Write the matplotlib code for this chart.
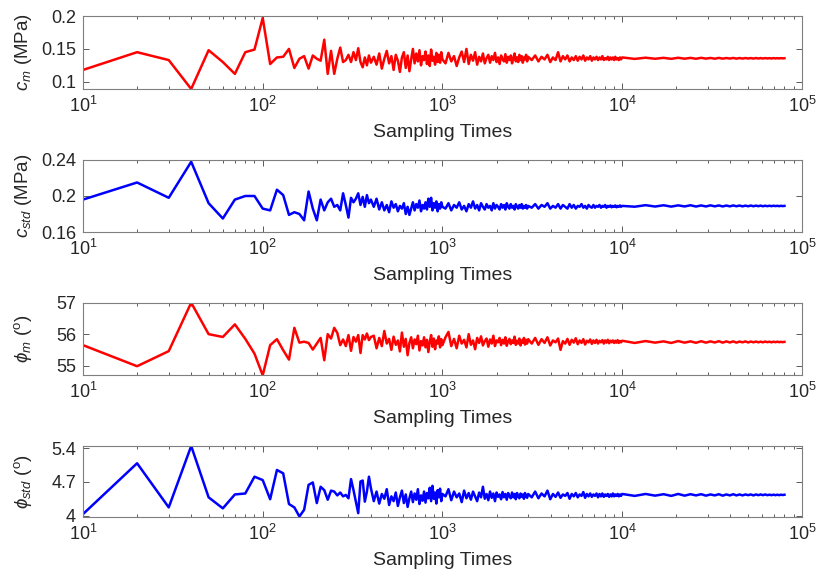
import matplotlib
matplotlib.use('Agg')
import matplotlib.pyplot as plt
from matplotlib.ticker import LogLocator, NullFormatter

plt.rcParams['font.family'] = ['Liberation Sans', 'DejaVu Sans']
plt.rcParams['mathtext.fontset'] = 'custom'
plt.rcParams['mathtext.rm'] = 'Liberation Sans'
plt.rcParams['mathtext.it'] = 'Liberation Sans:italic'
plt.rcParams['mathtext.bf'] = 'Liberation Sans:bold'

# Monte Carlo sampling times (subsampled for plotting)
sampling_times = [
    10, 20, 30, 40, 50, 60, 70, 80, 90, 100,
    110, 120, 130, 140, 150, 160, 170, 180, 190, 200,
    210, 220, 230, 240, 250, 260, 270, 280, 290, 300,
    310, 320, 330, 340, 350, 360, 370, 380, 390, 400,
    415, 430, 445, 460, 475, 490, 505, 520, 535, 550,
    565, 580, 595, 610, 625, 640, 655, 670, 685, 700,
    715, 730, 745, 760, 775, 790, 805, 820, 835, 850,
    865, 880, 895, 910, 925, 940, 955, 970, 985, 1000,
    1040, 1080, 1120, 1160, 1200, 1240, 1280, 1320, 1360, 1400,
    1440, 1480, 1520, 1560, 1600, 1640, 1680, 1720, 1760, 1800,
    1840, 1880, 1920, 1960, 2000, 2040, 2080, 2120, 2160, 2200,
    2240, 2280, 2320, 2360, 2400, 2440, 2480, 2520, 2560, 2600,
    2640, 2680, 2720, 2760, 2800, 2840, 2880, 2920, 2960, 3000,
    3140, 3280, 3420, 3560, 3700, 3840, 3980, 4120, 4260, 4400,
    4540, 4680, 4820, 4960, 5100, 5240, 5380, 5520, 5660, 5800,
    5940, 6080, 6220, 6360, 6500, 6640, 6780, 6920, 7060, 7200,
    7340, 7480, 7620, 7760, 7900, 8040, 8180, 8320, 8460, 8600,
    8740, 8880, 9020, 9160, 9300, 9440, 9580, 9720, 9860, 10000,
    11750, 13500, 15250, 17000, 18750, 20500, 22250, 24000, 25750, 27500,
    29250, 31000, 32750, 34500, 36250, 38000, 39750, 41500, 43250, 45000,
    46750, 48500, 50250, 52000, 53750, 55500, 57250, 59000, 60750, 62500,
    64250, 66000, 67750, 69500, 71250, 73000, 74750, 76500, 78250, 80000,
]

# mean cohesion (MPa)
c_mean = [
    0.118, 0.145, 0.133, 0.089, 0.148, 0.130, 0.112, 0.145, 0.149, 0.197,
    0.127, 0.137, 0.138, 0.150, 0.121, 0.135, 0.139, 0.120, 0.140, 0.135,
    0.132, 0.164, 0.112, 0.147, 0.112, 0.135, 0.152, 0.130, 0.133, 0.141,
    0.130, 0.145, 0.133, 0.151, 0.130, 0.122, 0.137, 0.125, 0.140, 0.129,
    0.138, 0.126, 0.143, 0.120, 0.135, 0.147, 0.128, 0.139, 0.118, 0.141,
    0.132, 0.115, 0.137, 0.145, 0.121, 0.140, 0.116, 0.134, 0.150, 0.128,
    0.143, 0.131, 0.148, 0.125, 0.139, 0.133, 0.146, 0.127, 0.140, 0.124,
    0.149, 0.132, 0.138, 0.126, 0.144, 0.130, 0.141, 0.129, 0.145, 0.134,
    0.128, 0.144, 0.131, 0.139, 0.124, 0.137, 0.146, 0.130, 0.150, 0.127,
    0.141, 0.132, 0.145, 0.126, 0.138, 0.131, 0.143, 0.128, 0.136, 0.141,
    0.129, 0.139, 0.133, 0.144, 0.130, 0.137, 0.127, 0.140, 0.134, 0.131,
    0.142, 0.129, 0.138, 0.133, 0.140, 0.128, 0.136, 0.143, 0.131, 0.137,
    0.130, 0.141, 0.133, 0.139, 0.129, 0.137, 0.134, 0.141, 0.131, 0.138,
    0.133, 0.140, 0.131, 0.138, 0.134, 0.141, 0.130, 0.137, 0.133, 0.145,
    0.131, 0.139, 0.134, 0.140, 0.131, 0.137, 0.133, 0.139, 0.132, 0.138,
    0.134, 0.140, 0.132, 0.137, 0.134, 0.139, 0.132, 0.137, 0.134, 0.138,
    0.133, 0.137, 0.134, 0.139, 0.133, 0.136, 0.134, 0.138, 0.133, 0.137,
    0.134, 0.137, 0.133, 0.138, 0.134, 0.136, 0.133, 0.137, 0.134, 0.137,
    0.1348, 0.1366, 0.1350, 0.1364, 0.1349, 0.1365, 0.1351, 0.1363, 0.1350, 0.1364,
    0.1352, 0.1362, 0.1351, 0.1363, 0.1352, 0.1361, 0.1353, 0.1362, 0.1352, 0.1361,
    0.1353, 0.1361, 0.1354, 0.1360, 0.1353, 0.1361, 0.1354, 0.1360, 0.1354, 0.1360,
    0.1355, 0.1359, 0.1354, 0.1360, 0.1355, 0.1359, 0.1355, 0.1359, 0.1356, 0.1358,
]

# standard deviation of cohesion (MPa)
c_std = [
    0.196, 0.215, 0.198, 0.238, 0.192, 0.175, 0.196, 0.200, 0.200, 0.186,
    0.184, 0.207, 0.201, 0.179, 0.182, 0.180, 0.173, 0.205, 0.186, 0.173,
    0.196, 0.184, 0.193, 0.197, 0.188, 0.190, 0.184, 0.203, 0.190, 0.176,
    0.198, 0.193, 0.197, 0.203, 0.190, 0.199, 0.188, 0.201, 0.192, 0.196,
    0.188, 0.197, 0.185, 0.193, 0.184, 0.190, 0.182, 0.194, 0.187, 0.191,
    0.183, 0.189, 0.186, 0.192, 0.180, 0.188, 0.179, 0.186, 0.193, 0.184,
    0.191, 0.187, 0.195, 0.183, 0.190, 0.186, 0.193, 0.185, 0.197, 0.188,
    0.198, 0.184, 0.192, 0.187, 0.194, 0.183, 0.191, 0.186, 0.193, 0.188,
    0.186, 0.192, 0.184, 0.190, 0.187, 0.193, 0.185, 0.189, 0.183, 0.191,
    0.187, 0.194, 0.186, 0.190, 0.184, 0.192, 0.188, 0.185, 0.191, 0.187,
    0.189, 0.184, 0.192, 0.186, 0.190, 0.188, 0.185, 0.191, 0.187, 0.190,
    0.185, 0.192, 0.188, 0.186, 0.191, 0.187, 0.189, 0.185, 0.191, 0.188,
    0.186, 0.190, 0.187, 0.191, 0.186, 0.189, 0.187, 0.190, 0.186, 0.189,
    0.187, 0.191, 0.186, 0.190, 0.188, 0.192, 0.186, 0.189, 0.187, 0.191,
    0.186, 0.190, 0.188, 0.186, 0.191, 0.187, 0.190, 0.186, 0.189, 0.188,
    0.191, 0.187, 0.189, 0.186, 0.190, 0.188, 0.187, 0.190, 0.187, 0.189,
    0.188, 0.190, 0.187, 0.189, 0.188, 0.190, 0.187, 0.189, 0.188, 0.1895,
    0.1875, 0.189, 0.188, 0.1895, 0.1875, 0.189, 0.188, 0.1895, 0.188, 0.189,
    0.1881, 0.1898, 0.1883, 0.1897, 0.1882, 0.1896, 0.1884, 0.1897, 0.1883, 0.1895,
    0.1884, 0.1896, 0.1885, 0.1895, 0.1884, 0.1894, 0.1885, 0.1895, 0.1886, 0.1894,
    0.1885, 0.1893, 0.1886, 0.1894, 0.1886, 0.1893, 0.1887, 0.1893, 0.1886, 0.1892,
    0.1887, 0.1892, 0.1887, 0.1892, 0.1888, 0.1891, 0.1887, 0.1891, 0.1888, 0.1890,
]

# mean friction angle (deg)
phi_mean = [
    55.65, 54.98, 55.46, 57.00, 56.00, 55.91, 56.31, 55.85, 55.38, 54.69,
    55.65, 55.84, 55.49, 55.19, 56.20, 55.73, 55.76, 55.72, 55.51, 55.70,
    55.88, 55.17, 56.00, 55.86, 56.20, 56.04, 55.65, 55.83, 55.62, 55.97,
    55.47, 55.91, 55.76, 55.97, 55.40, 55.97, 55.83, 56.02, 55.81, 55.91,
    55.95, 55.55, 55.88, 55.62, 56.10, 55.70, 55.85, 55.50, 55.92, 55.66,
    55.80, 55.45, 56.05, 55.60, 55.85, 55.33, 55.72, 55.90, 55.55, 55.83,
    55.68, 55.95, 55.48, 55.78, 55.64, 55.90, 55.58, 55.82, 55.43, 55.75,
    55.97, 55.60, 55.86, 55.52, 55.80, 55.70, 55.93, 55.58, 55.84, 55.65,
    55.90, 56.07, 55.62, 55.85, 55.55, 55.95, 55.70, 55.82, 55.58, 56.00,
    55.66, 55.80, 55.52, 55.88, 55.72, 55.93, 55.64, 55.78, 55.86, 55.60,
    55.83, 55.70, 55.95, 55.62, 55.80, 55.74, 55.88, 55.65, 55.82, 55.70,
    55.90, 55.63, 55.78, 55.85, 55.68, 55.80, 55.72, 55.92, 55.66, 55.79,
    55.70, 55.86, 55.64, 55.80, 55.73, 55.88, 55.67, 55.82, 55.70, 55.84,
    55.70, 55.88, 55.66, 55.84, 55.72, 55.90, 55.64, 55.80, 55.74, 55.86,
    55.50, 55.78, 55.70, 55.85, 55.66, 55.82, 55.73, 55.87, 55.68, 55.80,
    55.72, 55.84, 55.67, 55.79, 55.74, 55.83, 55.69, 55.80, 55.72, 55.82,
    55.70, 55.79, 55.74, 55.81, 55.70, 55.80, 55.73, 55.82, 55.71, 55.79,
    55.74, 55.80, 55.72, 55.79, 55.73, 55.81, 55.72, 55.78, 55.74, 55.79,
    55.72, 55.78, 55.73, 55.77, 55.72, 55.78, 55.73, 55.77, 55.725, 55.775,
    55.73, 55.77, 55.735, 55.775, 55.73, 55.77, 55.735, 55.77, 55.73, 55.765,
    55.74, 55.77, 55.735, 55.765, 55.74, 55.765, 55.74, 55.76, 55.74, 55.765,
    55.745, 55.76, 55.74, 55.76, 55.745, 55.76, 55.745, 55.755, 55.745, 55.755,
]

# standard deviation of friction angle (deg)
phi_std = [
    4.03, 5.09, 4.17, 5.45, 4.38, 4.15, 4.44, 4.46, 4.81, 4.74,
    4.34, 4.95, 4.88, 4.24, 4.17, 3.98, 4.12, 4.64, 4.69, 4.26,
    4.60, 4.53, 4.33, 4.52, 4.50, 4.42, 4.48, 4.40, 4.43, 4.36,
    4.76, 4.53, 4.29, 4.05, 4.71, 4.73, 4.29, 4.50, 4.81, 4.57,
    4.30, 4.50, 4.25, 4.45, 4.35, 4.55, 4.22, 4.40, 4.30, 4.48,
    4.20, 4.38, 4.52, 4.26, 4.44, 4.18, 4.36, 4.50, 4.28, 4.46,
    4.33, 4.55, 4.24, 4.42, 4.31, 4.50, 4.27, 4.47, 4.36, 4.58,
    4.30, 4.62, 4.35, 4.48, 4.25, 4.53, 4.38, 4.56, 4.30, 4.45,
    4.40, 4.55, 4.32, 4.50, 4.38, 4.46, 4.28, 4.52, 4.36, 4.47,
    4.33, 4.50, 4.40, 4.30, 4.48, 4.38, 4.60, 4.35, 4.45, 4.32,
    4.50, 4.37, 4.46, 4.30, 4.48, 4.39, 4.44, 4.34, 4.49, 4.38,
    4.45, 4.33, 4.47, 4.40, 4.36, 4.48, 4.38, 4.45, 4.34, 4.47,
    4.40, 4.36, 4.46, 4.39, 4.44, 4.35, 4.47, 4.40, 4.37, 4.45,
    4.38, 4.50, 4.36, 4.46, 4.40, 4.52, 4.34, 4.45, 4.39, 4.48,
    4.37, 4.44, 4.41, 4.47, 4.35, 4.45, 4.40, 4.47, 4.38, 4.44,
    4.41, 4.49, 4.37, 4.45, 4.40, 4.46, 4.39, 4.44, 4.41, 4.46,
    4.38, 4.45, 4.40, 4.46, 4.39, 4.44, 4.41, 4.45, 4.39, 4.44,
    4.40, 4.46, 4.40, 4.44, 4.41, 4.45, 4.40, 4.44, 4.41, 4.45,
    4.41, 4.45, 4.415, 4.445, 4.41, 4.45, 4.415, 4.445, 4.42, 4.445,
    4.415, 4.44, 4.42, 4.445, 4.415, 4.44, 4.42, 4.445, 4.42, 4.44,
    4.42, 4.44, 4.425, 4.44, 4.42, 4.44, 4.425, 4.44, 4.425, 4.44,
    4.425, 4.435, 4.425, 4.435, 4.425, 4.435, 4.425, 4.435, 4.428, 4.434,
]

series = [c_mean, c_std, phi_mean, phi_std]
colors = ['#ff0000', '#0000ff', '#ff0000', '#0000ff']
ylabels = [r'$c_m$ (MPa)', r'$c_{std}$ (MPa)',
           r'$\phi_m$ ($^{\rm o}$)', r'$\phi_{std}$ ($^{\rm o}$)']
ylims = [(0.089, 0.2), (0.16, 0.24), (54.7, 57.0), (3.97, 5.45)]
yticks = [[0.1, 0.15, 0.2], [0.16, 0.2, 0.24], [55, 56, 57], [4, 4.7, 5.4]]
yticklabels = [['0.1', '0.15', '0.2'], ['0.16', '0.2', '0.24'],
               ['55', '56', '57'], ['4', '4.7', '5.4']]

# axes rectangles [left, bottom, width, height] in figure fractions
rects = [[0.1017, 0.8463, 0.881, 0.126],
         [0.1017, 0.5993, 0.881, 0.1244],
         [0.1017, 0.3523, 0.881, 0.1249],
         [0.1017, 0.1071, 0.881, 0.1226]]

fig = plt.figure(figsize=(8.16, 5.79), dpi=100)

for i in range(4):
    ax = fig.add_axes(rects[i])
    ax.plot(sampling_times, series[i], color=colors[i], linewidth=1.8)
    ax.set_xscale('log')
    ax.set_xlim(10, 1e5)
    ax.set_ylim(*ylims[i])
    ax.set_yticks(yticks[i])
    ax.set_yticklabels(yticklabels[i])
    ax.xaxis.set_major_locator(LogLocator(base=10, numticks=10))
    ax.xaxis.set_minor_locator(LogLocator(base=10, subs=range(2, 10), numticks=20))
    ax.xaxis.set_minor_formatter(NullFormatter())
    ax.tick_params(which='both', direction='in', top=True, right=True,
                   color='#5a5a5a', labelcolor='#262626', labelsize=13, width=0.7)
    ax.tick_params(which='major', length=4.5, pad=5)
    ax.tick_params(which='minor', length=2.5)
    for sp in ax.spines.values():
        sp.set_color('#7f7f7f')
        sp.set_linewidth(0.8)
    ax.set_xlabel('Sampling Times', fontsize=14, color='#262626', labelpad=6)
    ax.set_ylabel(ylabels[i], fontsize=13.5, color='#262626')
    ax.yaxis.set_label_coords(-0.068, 0.5)

fig.savefig('out.png', dpi=100)
